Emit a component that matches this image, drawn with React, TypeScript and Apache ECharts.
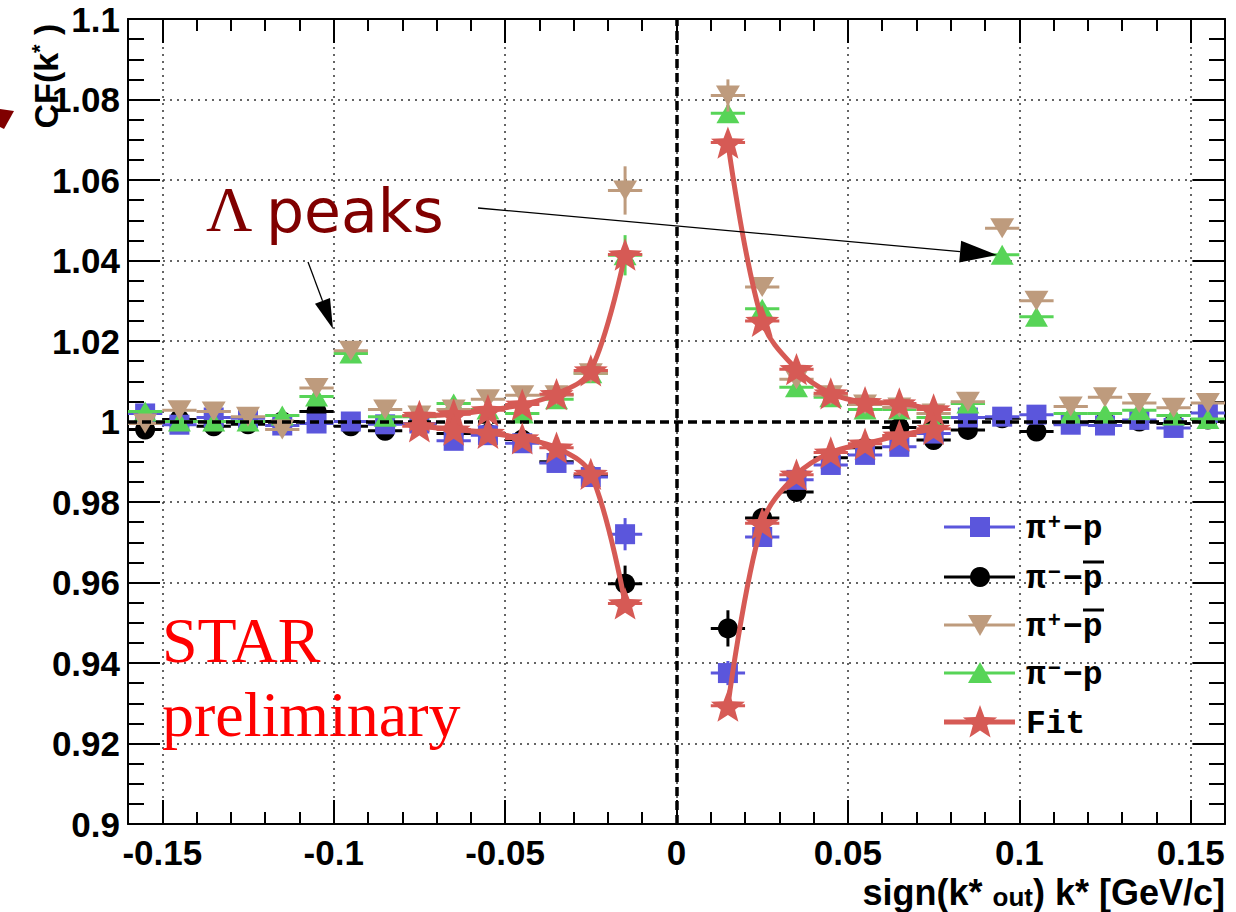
import { useEffect, useRef } from "react";
import * as echarts from "echarts";

// k* bin centres (GeV/c), signed by k*_out
const kBins = [
  -0.155, -0.145, -0.135, -0.125, -0.115, -0.105, -0.095, -0.085, -0.075, -0.065, -0.055, -0.045, -0.035, -0.025, -0.015,
  0.015, 0.025, 0.035, 0.045, 0.055, 0.065, 0.075, 0.085, 0.095, 0.105, 0.115, 0.125, 0.135, 0.145, 0.155,
];

// labelled x ticks
const xTickValues = [-0.15, -0.1, -0.05, 0, 0.05, 0.1, 0.15];

// pi+ - p
const cfPiPlusP = [
  1.002, 0.9992, 1.001, 1.0008, 0.999, 0.9995, 1.0, 0.9993, 0.9995, 0.9952, 0.9966, 0.9946, 0.9897, 0.9862, 0.972,
  0.9375, 0.9713, 0.9855, 0.9892, 0.9917, 0.9937, 0.997, 1.001, 1.0012, 1.0017, 0.9992, 0.999, 1.0004, 0.9984, 1.0021,
];
const errPiPlusP = [
  0.001, 0.001, 0.001, 0.001, 0.001, 0.001, 0.001, 0.001, 0.001, 0.001, 0.001, 0.001, 0.0012, 0.0015, 0.004,
  0.003, 0.0015, 0.0012, 0.001, 0.001, 0.001, 0.001, 0.001, 0.001, 0.001, 0.001, 0.001, 0.001, 0.001, 0.001,
];

// pi- - anti-p
const cfPiMinusPbar = [
  0.998, 1.0005, 0.9988, 0.9993, 1.0, 1.0025, 0.9988, 0.9977, 0.9995, 0.997, 0.997, 0.9955, 0.99, 0.9865, 0.9597,
  0.9486, 0.976, 0.9825, 0.991, 0.9935, 0.9985, 0.9954, 0.9979, 1.0008, 0.9975, 0.9995, 1.0, 1.0, 0.9995, 1.0005,
];
const errPiMinusPbar = [
  0.001, 0.001, 0.001, 0.001, 0.001, 0.001, 0.001, 0.001, 0.001, 0.001, 0.001, 0.001, 0.0012, 0.0015, 0.0045,
  0.0045, 0.0015, 0.0012, 0.001, 0.001, 0.001, 0.001, 0.001, 0.001, 0.001, 0.001, 0.001, 0.001, 0.001, 0.001,
];

// pi+ - anti-p
const cfPiPlusPbar = [
  0.9995, 1.0028, 1.0025, 1.0012, 0.998, 1.0083, 1.0176, 1.003, 1.0015, 1.003, 1.0055, 1.0065, 1.0065, 1.012, 1.0574,
  1.081, 1.0334, 1.0105, 1.0065, 1.0042, 1.0035, 1.002, 1.0049, 1.048, 1.03, 1.0037, 1.006, 1.0046, 1.0034, 1.0046,
];
const errPiPlusPbar = [
  0.001, 0.001, 0.001, 0.001, 0.001, 0.001, 0.001, 0.001, 0.001, 0.001, 0.001, 0.001, 0.0012, 0.0015, 0.006,
  0.004, 0.0015, 0.0012, 0.001, 0.001, 0.001, 0.001, 0.001, 0.0015, 0.0012, 0.001, 0.001, 0.001, 0.001, 0.001,
];

// pi- - p
const cfPiMinusP = [
  1.0025, 1.0, 1.0, 1.0, 1.0015, 1.0062, 1.0169, 1.0012, 1.0012, 1.0045, 1.003, 1.002, 1.0055, 1.012, 1.0413,
  1.0766, 1.028, 1.0085, 1.006, 1.003, 1.003, 1.001, 1.0045, 1.0414, 1.026, 1.002, 1.002, 1.0028, 1.0015, 1.0006,
];
const errPiMinusP = [
  0.001, 0.001, 0.001, 0.001, 0.001, 0.001, 0.001, 0.001, 0.001, 0.001, 0.001, 0.001, 0.0012, 0.0015, 0.005,
  0.002, 0.0015, 0.0012, 0.001, 0.001, 0.001, 0.001, 0.001, 0.0012, 0.0012, 0.001, 0.001, 0.001, 0.001, 0.001,
];

// Fit, evaluated at the bin centres on each side
const fitKLeft = [-0.075, -0.065, -0.055, -0.045, -0.035, -0.025, -0.015];
const fitKRight = [0.015, 0.025, 0.035, 0.045, 0.055, 0.065, 0.075];
const fitLeftUpper = [1.0014, 1.0018, 1.0028, 1.0042, 1.0068, 1.0127, 1.0415];
const fitLeftLower = [0.9988, 0.998, 0.9972, 0.9958, 0.9935, 0.987, 0.9548];
const fitRightUpper = [1.0693, 1.025, 1.013, 1.007, 1.0048, 1.0045, 1.003];
const fitRightLower = [0.9294, 0.9747, 0.9868, 0.9923, 0.9945, 0.9965, 0.9982];

const BIN_HALF = 0.005;

const C_BLUE = "#5b56dc";
const C_BLACK = "#000000";
const C_TAN = "#be9b7d";
const C_GREEN = "#57d457";
const C_RED = "#d65a55";

function starPoints(cx: number, cy: number, R: number, r: number): number[][] {
  const pts: number[][] = [];
  for (let i = 0; i < 10; i++) {
    const a = (i * Math.PI) / 5;
    const rad = i % 2 === 0 ? R : r;
    pts.push([cx + rad * Math.sin(a), cy - rad * Math.cos(a)]);
  }
  return pts;
}

const STAR_SYMBOL =
  "path://M" + starPoints(50, 50, 50, 21).map((p) => p[0].toFixed(2) + "," + p[1].toFixed(2)).join("L") + "Z";

function errorBars(k: number[], v: number[], e: number[], color: string, z: number) {
  return {
    type: "custom",
    z,
    silent: true,
    data: k.map((x, i) => [x, v[i], e[i]]),
    renderItem: (_params: any, api: any) => {
      const x = api.value(0);
      const y = api.value(1);
      const err = api.value(2);
      const l = api.coord([x - BIN_HALF, y]);
      const r = api.coord([x + BIN_HALF, y]);
      const t = api.coord([x, y + err]);
      const b = api.coord([x, y - err]);
      return {
        type: "group",
        children: [
          { type: "line", shape: { x1: l[0], y1: l[1], x2: r[0], y2: r[1] }, style: { stroke: color, lineWidth: 3 } },
          { type: "line", shape: { x1: t[0], y1: t[1], x2: b[0], y2: b[1] }, style: { stroke: color, lineWidth: 3 } },
        ],
      };
    },
  };
}

function markers(name: string, k: number[], v: number[], color: string, symbol: string, size: any, rotate: number, z: number) {
  return {
    name,
    type: "scatter",
    z,
    symbol,
    symbolSize: size,
    symbolRotate: rotate,
    itemStyle: { color, opacity: 1 },
    data: k.map((x, i) => [x, v[i]]),
  };
}

function fitBranch(k: number[], v: number[]) {
  return {
    name: "Fit",
    type: "line",
    z: 12,
    smooth: 0.35,
    symbol: STAR_SYMBOL,
    symbolSize: 34,
    symbolKeepAspect: true,
    itemStyle: { color: C_RED },
    lineStyle: { color: C_RED, width: 5 },
    data: k.map((x, i) => [x, v[i]]),
  };
}

const axisFont = { fontFamily: "Liberation Sans", fontWeight: "bold" as const, fontSize: 35, color: "#000" };
const frameLine = { show: true, onZero: false, lineStyle: { color: "#000", width: 2 } };
const hiddenLine = { show: false, onZero: false };
const tickStyle = { color: "#000", width: 2 };
const gridLine = { show: true, lineStyle: { color: "#333", width: 1.5, type: [2, 5] } };

// legend rows: marker, pion charge, anti-proton bar
const legendRows = [
  { color: C_BLUE, marker: "rect", charge: "+", bar: false, text: "" },
  { color: C_BLACK, marker: "circle", charge: "−", bar: true, text: "" },
  { color: C_TAN, marker: "down", charge: "+", bar: true, text: "" },
  { color: C_GREEN, marker: "up", charge: "−", bar: false, text: "" },
  { color: C_RED, marker: "star", charge: "", bar: false, text: "Fit" },
];
const legendY = [527, 577, 625, 673, 722];

function legendGraphic() {
  const els: any[] = [];
  legendRows.forEach((row, i) => {
    const y = legendY[i];
    els.push({ type: "line", shape: { x1: 944, y1: y, x2: 1015, y2: y }, style: { stroke: row.color, lineWidth: row.marker === "star" ? 5 : 3 } });
    if (row.marker === "rect") {
      els.push({ type: "rect", shape: { x: 970, y: y - 10, width: 20, height: 20 }, style: { fill: row.color } });
    } else if (row.marker === "circle") {
      els.push({ type: "circle", shape: { cx: 980, cy: y, r: 10 }, style: { fill: row.color } });
    } else if (row.marker === "down") {
      els.push({ type: "polygon", shape: { points: [[968, y - 10], [992, y - 10], [980, y + 11]] }, style: { fill: row.color } });
    } else if (row.marker === "up") {
      els.push({ type: "polygon", shape: { points: [[968, y + 10], [992, y + 10], [980, y - 11]] }, style: { fill: row.color } });
    } else {
      els.push({ type: "polygon", shape: { points: starPoints(980, y + 1, 18, 7.5) }, style: { fill: row.color } });
    }
    const txt = row.text ? `{t|${row.text}}` : `{t|π}{sup|${row.charge}}{t|−p}`;
    els.push({
      type: "text",
      x: 1026,
      y: y + 2,
      style: {
        text: txt,
        textVerticalAlign: "middle",
        rich: {
          t: { fontFamily: "Liberation Mono", fontWeight: "bold", fontSize: 33, fill: "#000", lineHeight: 34 },
          sup: { fontFamily: "Liberation Mono", fontWeight: "bold", fontSize: 22, fill: "#000", lineHeight: 14, verticalAlign: "top", padding: [0, 2, 0, 2] },
        },
      },
    });
    if (row.bar) {
      els.push({ type: "line", shape: { x1: 1083, y1: y - 15, x2: 1104, y2: y - 15 }, style: { stroke: "#000", lineWidth: 3 } });
    }
  });
  return els;
}

function arrow(x0: number, y0: number, x1: number, y1: number, len: number, half: number) {
  const d = Math.hypot(x1 - x0, y1 - y0);
  const ux = (x1 - x0) / d;
  const uy = (y1 - y0) / d;
  const bx = x1 - ux * len;
  const by = y1 - uy * len;
  return [
    { type: "line", shape: { x1: x0, y1: y0, x2: bx, y2: by }, style: { stroke: "#000", lineWidth: 1.3 } },
    {
      type: "polygon",
      shape: { points: [[x1, y1], [bx - uy * half, by + ux * half], [bx + uy * half, by - ux * half]] },
      style: { fill: "#000" },
    },
  ];
}

const X_MIN = -0.16;
const X_MAX = 0.16;

const option: any = {
  animation: false,
  backgroundColor: "#fff",
  grid: { left: 128, right: 11, top: 19, bottom: 88, containLabel: false, outerBoundsMode: "none" },
  xAxis: [
    {
      type: "value", position: "bottom", min: X_MIN, max: X_MAX, interval: 0.01,
      axisLine: frameLine,
      axisTick: { show: true, inside: true, length: 24, lineStyle: tickStyle, customValues: xTickValues },
      axisLabel: { ...axisFont, margin: 11, customValues: xTickValues },
      splitLine: gridLine,
    },
    {
      type: "value", position: "top", min: X_MIN, max: X_MAX, interval: 0.01,
      axisLine: frameLine,
      axisTick: { show: true, inside: true, length: 24, lineStyle: tickStyle, customValues: xTickValues },
      axisLabel: { show: false },
      splitLine: { show: false },
    },
    {
      type: "value", position: "bottom", min: X_MIN, max: X_MAX, interval: 0.01,
      axisLine: hiddenLine,
      axisTick: { show: true, inside: true, length: 12, lineStyle: tickStyle },
      axisLabel: { show: false },
      splitLine: { show: false },
    },
    {
      type: "value", position: "top", min: X_MIN, max: X_MAX, interval: 0.01,
      axisLine: hiddenLine,
      axisTick: { show: true, inside: true, length: 12, lineStyle: tickStyle },
      axisLabel: { show: false },
      splitLine: { show: false },
    },
  ],
  yAxis: [
    {
      type: "value", position: "left", min: 0.9, max: 1.1, interval: 0.02,
      axisLine: frameLine,
      axisTick: { show: true, inside: true, length: 32, lineStyle: tickStyle },
      axisLabel: { ...axisFont, margin: 8 },
      splitLine: gridLine,
    },
    {
      type: "value", position: "right", min: 0.9, max: 1.1, interval: 0.02,
      axisLine: frameLine,
      axisTick: { show: true, inside: true, length: 32, lineStyle: tickStyle },
      axisLabel: { show: false },
      splitLine: { show: false },
    },
    {
      type: "value", position: "left", min: 0.9, max: 1.1, interval: 0.005,
      axisLine: hiddenLine,
      axisTick: { show: true, inside: true, length: 16, lineStyle: tickStyle },
      axisLabel: { show: false },
      splitLine: { show: false },
    },
    {
      type: "value", position: "right", min: 0.9, max: 1.1, interval: 0.005,
      axisLine: hiddenLine,
      axisTick: { show: true, inside: true, length: 16, lineStyle: tickStyle },
      axisLabel: { show: false },
      splitLine: { show: false },
    },
  ],
  series: [
    errorBars(kBins, cfPiMinusPbar, errPiMinusPbar, C_BLACK, 2),
    markers("π⁻−p̄", kBins, cfPiMinusPbar, C_BLACK, "circle", 20, 0, 3),
    errorBars(kBins, cfPiPlusP, errPiPlusP, C_BLUE, 4),
    markers("π⁺−p", kBins, cfPiPlusP, C_BLUE, "rect", 20, 0, 5),
    errorBars(kBins, cfPiMinusP, errPiMinusP, C_GREEN, 6),
    markers("π⁻−p", kBins, cfPiMinusP, C_GREEN, "triangle", [23, 20], 0, 7),
    errorBars(kBins, cfPiPlusPbar, errPiPlusPbar, C_TAN, 8),
    markers("π⁺−p̄", kBins, cfPiPlusPbar, C_TAN, "triangle", [24, 20], 180, 9),
    {
      type: "line",
      z: 10,
      data: [],
      markLine: {
        silent: true,
        z: 10,
        symbol: ["none", "none"],
        label: { show: false },
        lineStyle: { color: "#000", width: 3.5, type: [9, 5] },
        data: [{ yAxis: 1 }, { xAxis: 0 }],
      },
    },
    errorBars(fitKLeft, fitLeftUpper, fitKLeft.map(() => 0), C_RED, 11),
    errorBars(fitKLeft, fitLeftLower, fitKLeft.map(() => 0), C_RED, 11),
    errorBars(fitKRight, fitRightUpper, fitKRight.map(() => 0), C_RED, 11),
    errorBars(fitKRight, fitRightLower, fitKRight.map(() => 0), C_RED, 11),
    fitBranch(fitKLeft, fitLeftUpper),
    fitBranch(fitKLeft, fitLeftLower),
    fitBranch(fitKRight, fitRightUpper),
    fitBranch(fitKRight, fitRightLower),
  ],
  graphic: [
    // y-axis title
    {
      type: "text",
      x: 46,
      y: 76,
      rotation: Math.PI / 2,
      z: 50,
      style: {
        text: "{m|CF(k}{sup|*}{m| )}",
        textAlign: "center",
        textVerticalAlign: "middle",
        rich: {
          m: { fontFamily: "Liberation Sans", fontWeight: "bold", fontSize: 34, fill: "#000", lineHeight: 36 },
          sup: { fontFamily: "Liberation Sans", fontWeight: "bold", fontSize: 22, fill: "#000", lineHeight: 10, verticalAlign: "top" },
        },
      },
    },
    // x-axis title
    {
      type: "text",
      x: 1225,
      y: 892,
      z: 50,
      style: {
        text: "{m|sign(k* }{s|out}{m|) k* [GeV/c]}",
        textAlign: "right",
        textVerticalAlign: "middle",
        rich: {
          m: { fontFamily: "Liberation Sans", fontWeight: "bold", fontSize: 36, fill: "#000", lineHeight: 36, verticalAlign: "top" },
          s: { fontFamily: "Liberation Sans", fontWeight: "bold", fontSize: 26, fill: "#000", lineHeight: 26, padding: [16, 0, 0, 0], verticalAlign: "bottom" },
        },
      },
    },
    // annotation
    {
      type: "text", x: 206, y: 209, z: 50,
      style: { text: "Λ", fontFamily: "Liberation Serif", fontSize: 64, fill: "#800000", textVerticalAlign: "middle" },
    },
    {
      type: "text", x: 266, y: 211, z: 50,
      style: { text: "peaks", fontFamily: "DejaVu Sans", fontSize: 60, fill: "#800000", textVerticalAlign: "middle" },
    },
    ...arrow(308, 262, 333, 329, 30, 8).map((e) => ({ ...e, z: 50 })),
    ...arrow(478, 208, 997, 255, 37, 11).map((e) => ({ ...e, z: 50 })),
    {
      type: "polygon", z: 50,
      shape: { points: [[0, 109], [14, 111], [4, 129], [0, 127]] },
      style: { fill: "#800000" },
    },
    {
      type: "text", x: 162, y: 640, z: 50,
      style: { text: "STAR", fontFamily: "Liberation Serif", fontSize: 64, fill: "#ff0000", textVerticalAlign: "middle" },
    },
    {
      type: "text", x: 162, y: 714, z: 50,
      style: { text: "preliminary", fontFamily: "Liberation Serif", fontSize: 64, fill: "#ff0000", textVerticalAlign: "middle" },
    },
    ...legendGraphic().map((e) => ({ ...e, z: 60 })),
  ],
};

export default function App() {
  const ref = useRef<HTMLDivElement>(null);
  useEffect(() => {
    const chart = echarts.init(ref.current!, null, { renderer: "svg" });
    chart.setOption(option);
    return () => chart.dispose();
  }, []);
  return (
    <div
      ref={ref}
      style={{ position: "absolute", left: 0, top: 0, width: 1236, height: 912, background: "#fff" }}
    />
  );
}
